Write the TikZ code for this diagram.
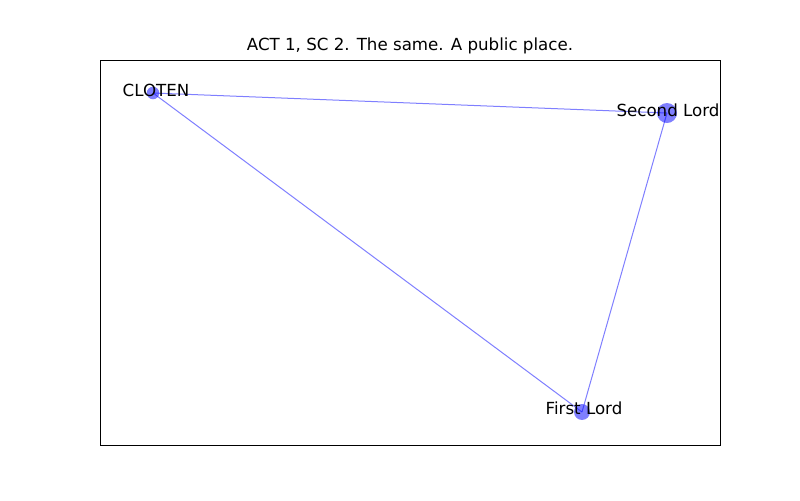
\documentclass[tikz,border=0pt]{standalone}
\usepackage{fontspec}
\setmainfont{DejaVu Sans}
\definecolor{netblue}{RGB}{0,0,255}
\begin{document}
\begin{tikzpicture}[x=0.72pt,y=-0.72pt,
        person/.style={circle,fill=netblue,fill opacity=0.5,inner sep=0pt},
        tie/.style={draw=netblue,draw opacity=0.5,line width=0.72pt},
        tag/.style={font=\fontsize{12}{14}\selectfont,inner sep=0pt}]
        \useasboundingbox (0,0) rectangle (800,500);
        \node[tag] (title) at (410,46) {ACT 1, SC 2. The same. A public place.};
        % persons
        \node[person,minimum size=9pt] (cloten) at (153,93) {};
        \node[person,minimum size=14.4pt] (second) at (667,113) {};
        \node[person,minimum size=11.5pt] (first) at (582,412) {};
        \foreach \a/\b in {cloten/second,cloten/first,second/first}
        \draw[tie] (\a.center)--(\b.center);
        \node[tag] (clotenname) at (156,90) {CLOTEN};
        \node[tag] (secondname) at (668,110) {Second Lord};
        \node[tag] (firstname) at (584,408) {First Lord};
        \draw[line width=0.72pt] (100,60) rectangle (720,445);
\end{tikzpicture}
\end{document}
